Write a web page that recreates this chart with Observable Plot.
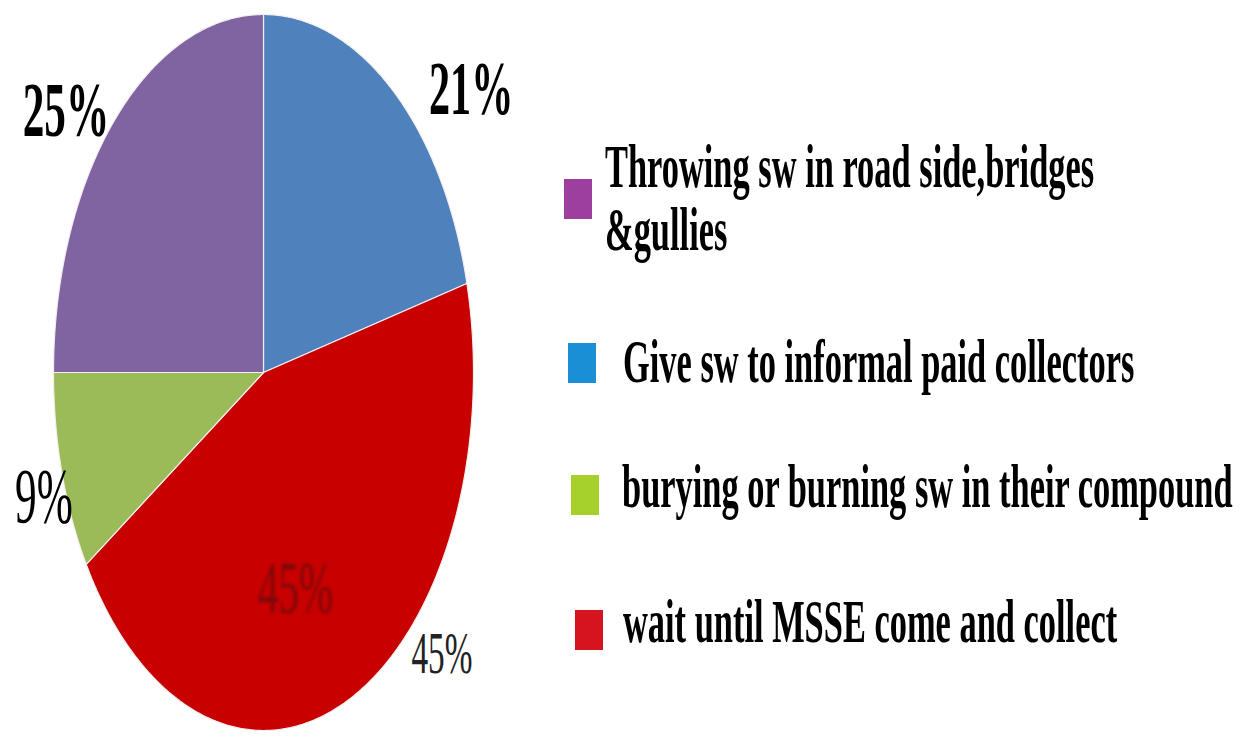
<!DOCTYPE html>
<html><head><meta charset="utf-8">
<script src="https://cdn.jsdelivr.net/npm/d3@7"></script>
<script src="https://cdn.jsdelivr.net/npm/@observablehq/plot@0.6"></script>
<style>
body{margin:0;background:#fff;}
#wrap{position:relative;width:1247px;height:738px;overflow:hidden;background:#fff;}
.sw{position:absolute;width:28px;height:40px;}
.lab{position:absolute;font-family:"Liberation Serif","Times New Roman",Times,"DejaVu Serif",serif;font-weight:bold;font-size:62px;line-height:63px;color:#000;transform:scaleX(0.555);transform-origin:0 0;white-space:pre;}
</style></head><body><div id="wrap"></div>
<script>
// ---- data ----
const categories = [
  "Throwing sw in road side,bridges &gullies",
  "Give sw to informal paid collectors",
  "burying or burning sw in their compound",
  "wait until MSSE come and collect"
];
const shares = [25, 21, 9, 45];
const sliceColors = ["#8064A2", "#4F81BD", "#9BBB59", "#C80000"];
const legendColors = ["#9C3F9E", "#1B8FD6", "#A6D12C", "#D5141F"];
const pieOrder = [1, 3, 2, 0]; // clockwise from 12 o'clock

const FONT = '"Liberation Serif", "Times New Roman", Times, "DejaVu Serif", serif';

// ---- pie geometry (unit circle in data space) ----
let acc = 0;
const total = d3.sum(shares);
const slices = pieOrder.map(i => {
  const a0 = acc / total * 2 * Math.PI; acc += shares[i];
  const a1 = acc / total * 2 * Math.PI;
  return {i, cat: categories[i], a0, a1, mid: (a0 + a1) / 2};
});
const pts = [];
for (const s of slices) {
  pts.push({cat: s.cat, x: 0, y: 0});
  const n = Math.max(2, Math.ceil((s.a1 - s.a0) / 0.01));
  for (let k = 0; k <= n; k++) {
    const a = s.a0 + (s.a1 - s.a0) * k / n;
    pts.push({cat: s.cat, x: Math.sin(a), y: Math.cos(a)});
  }
  pts.push({cat: s.cat, x: 0, y: 0});
}
const edge = slices.map(s => ({i: s.i, text: shares[s.i] + "%", x: Math.sin(s.mid), y: Math.cos(s.mid)}));
const inner = slices.filter(s => s.i === 3).map(s => ({i: s.i, text: shares[s.i] + "%", x: 0.6 * Math.sin(s.mid), y: 0.6 * Math.cos(s.mid)}));

const W = 1247, H = 738, cx = 263, cy = 372, rx = 210, ry = 358;
const lab = (data, idx, opts) => Plot.text(data.filter(d => d.i === idx), {
  x: "x", y: "y", text: "text", fontFamily: FONT, textAnchor: "middle", lineAnchor: "middle", fill: "#000", ...opts
});

const svg = Plot.plot({
  width: W, height: H, margin: 0,
  style: {background: "#fff"},
  x: {domain: [-cx / rx, (W - cx) / rx], axis: null},
  y: {domain: [(cy - H) / ry, cy / ry], axis: null},
  color: {domain: categories, range: sliceColors},
  marks: [
    Plot.line(pts, {x: "x", y: "y", z: "cat", fill: "cat", stroke: "#f4eef0", strokeWidth: 1.2, curve: "linear"}),
    lab(edge, 1, {dx: 79, dy: 0, fontSize: 76, fontWeight: "bold"}),
    lab(edge, 0, {dx: -49, dy: -8, fontSize: 78, fontWeight: "bold"}),
    lab(edge, 2, {dx: -18, dy: 25, fontSize: 78}),
    lab(edge, 3, {dx: 95, dy: -47, fontSize: 60, fill: "#222"}),
    lab(inner, 3, {dx: -18, dy: 20, fontSize: 74, fill: "#7e0808", className: "inner-label"})
  ]
});
const wrap = document.getElementById("wrap");
wrap.appendChild(svg);
svg.querySelectorAll("text").forEach(t => {
  t.style.fontFamily = FONT;
  const L = t.getComputedTextLength();
  if (L > 0) { t.setAttribute("textLength", L * 0.555); t.setAttribute("lengthAdjust", "spacingAndGlyphs"); }
});
svg.querySelectorAll(".inner-label text, g.inner-label text").forEach(t => { t.style.filter = "blur(1.6px)"; });

// ---- legend ----
const legendPos = [
  {sx: 564, sy: 179, tx: 605, ty: 135},
  {sx: 568, sy: 343, tx: 623, ty: 330},
  {sx: 571, sy: 475, tx: 622, ty: 455},
  {sx: 575, sy: 610, tx: 623, ty: 590}
];
categories.forEach((c, i) => {
  const p = legendPos[i];
  const sq = document.createElement("div");
  sq.className = "sw";
  sq.style.left = p.sx + "px"; sq.style.top = p.sy + "px"; sq.style.background = legendColors[i];
  wrap.appendChild(sq);
  const t = document.createElement("div");
  t.className = "lab";
  t.style.left = p.tx + "px"; t.style.top = p.ty + "px";
  t.textContent = c.replace(" &", "\n&");
  wrap.appendChild(t);
});
</script>
</body></html>
